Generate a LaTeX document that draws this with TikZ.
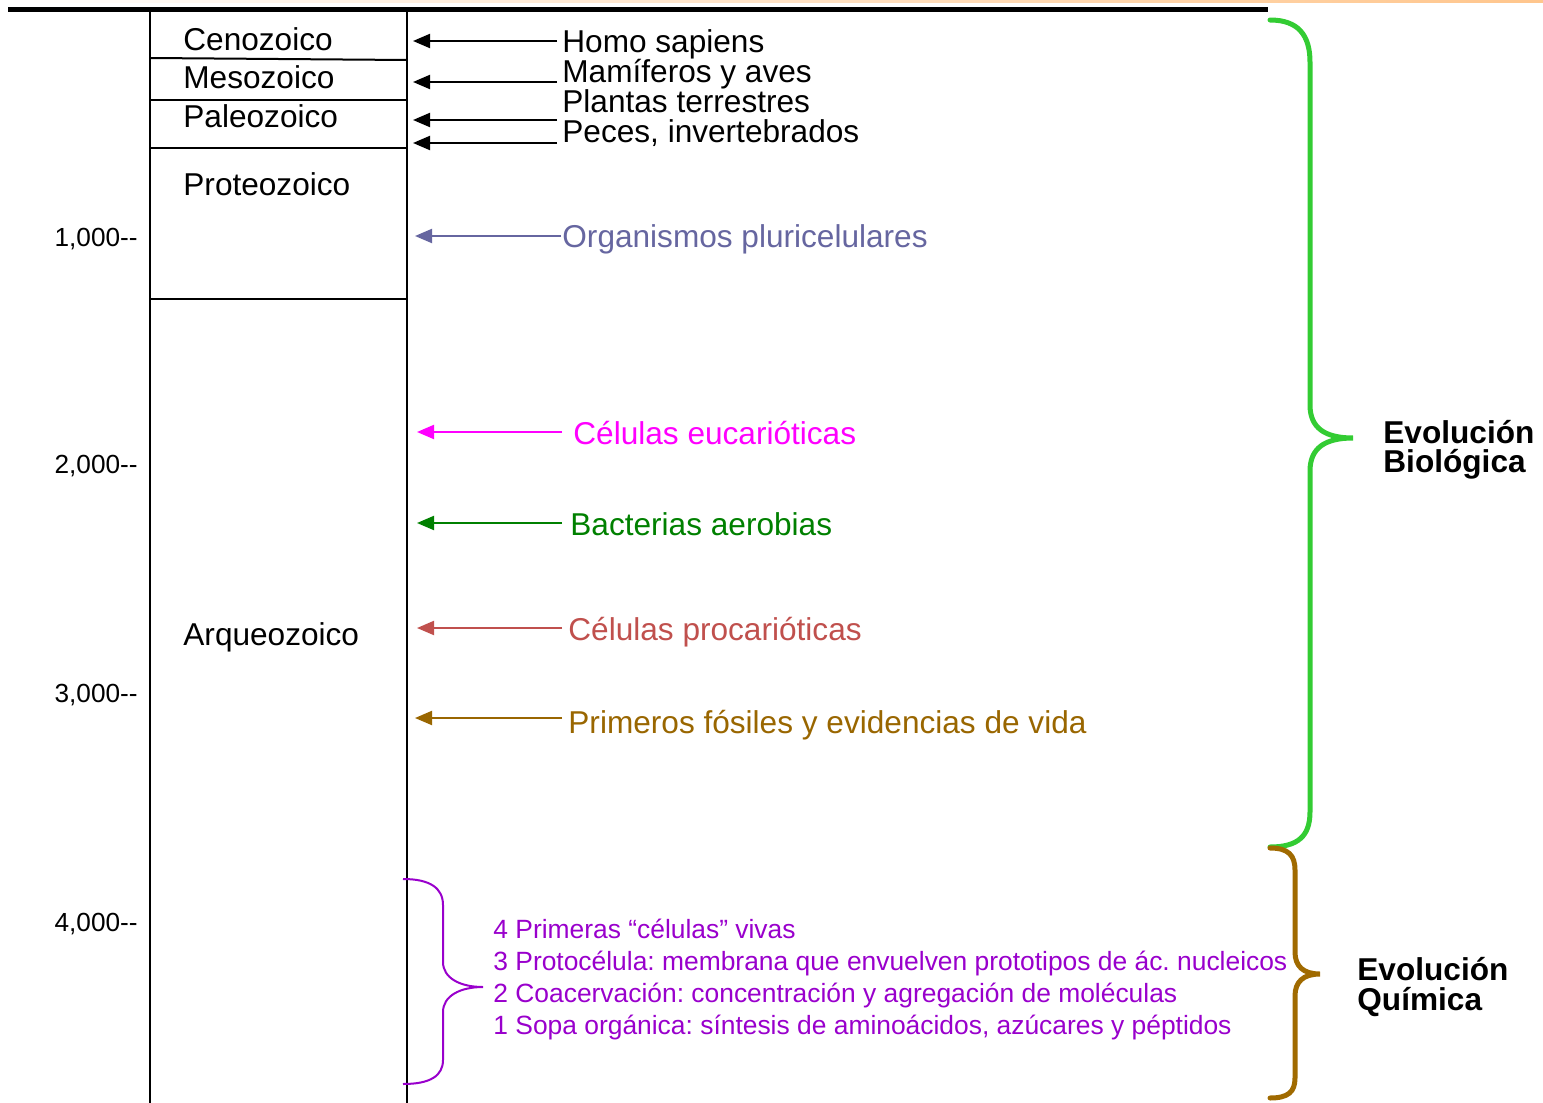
\documentclass[tikz,border=0pt]{standalone}
\usepackage{fontspec}
\setmainfont{Liberation Sans}
\usetikzlibrary{arrows.meta}
\usepackage{xcolor}
\frenchspacing

\definecolor{pluri}{RGB}{102,102,160}
\definecolor{euca}{RGB}{255,0,255}
\definecolor{aero}{RGB}{0,128,0}
\definecolor{proca}{RGB}{192,80,77}
\definecolor{fosil}{RGB}{153,102,0}
\definecolor{biol}{RGB}{51,204,51}
\definecolor{quim}{RGB}{160,106,0}
\definecolor{sopa}{RGB}{153,0,204}

\begin{document}
\begin{tikzpicture}[x=0.5pt,y=-0.5pt,
  era/.style={anchor=base west,inner sep=0pt,font=\fontsize{15.8}{19}\selectfont},
  evento/.style={anchor=base west,inner sep=0pt,font=\fontsize{15.8}{19}\selectfont},
  edad/.style={anchor=base east,inner sep=0pt,font=\fontsize{13.1}{16}\selectfont},
  paso/.style={anchor=base west,inner sep=0pt,text=sopa,font=\fontsize{13.2}{16}\selectfont},
  titulo/.style={anchor=base west,inner sep=0pt,font=\fontsize{15.8}{19}\selectfont\bfseries},
  flecha/.style={line width=1pt,-{Triangle[length=8.5pt,width=7pt]}},
  llave/.style={line width=2.5pt,line cap=round}]
\useasboundingbox (0,0) rectangle (1543,1103);

%top
\shade[left color=white,right color=orange!45] (0,0) rectangle (1543,2.5);
\draw[line width=2.5pt] (8,9) -- (1268,9);

%column
\draw[line width=1pt] (150,11) -- (150,1103);
\draw[line width=1pt] (407,11) -- (407,1103);
\draw[line width=1pt] (150,58) -- (407,60);
\draw[line width=1pt] (150,100) -- (407,100);
\draw[line width=1pt] (150,148) -- (407,148);
\draw[line width=1pt] (150,299) -- (407,299);

%eras
\node[era] (ceno) at (183,50) {Cenozoico};
\node[era] (meso) at (183,88) {Mesozoico};
\node[era] (paleo) at (183,127) {Paleozoico};
\node[era] (proteo) at (183,195) {Proteozoico};
\node[era] (arqueo) at (183,645) {Arqueozoico};

%ages
\node[edad] (m1) at (138,246) {1,000\mbox{-}\mbox{-}};
\node[edad] (m2) at (138,473) {2,000\mbox{-}\mbox{-}};
\node[edad] (m3) at (138,702) {3,000\mbox{-}\mbox{-}};
\node[edad] (m4) at (138,931) {4,000\mbox{-}\mbox{-}};

%events
\node[evento] (homo) at (562,52) {Homo sapiens};
\node[evento] (mami) at (562,83) {Mamíferos y aves};
\node[evento] (plan) at (562,112) {Plantas terrestres};
\node[evento] (pece) at (562,142) {Peces, invertebrados};
\node[evento,text=pluri] (orga) at (562,247) {Organismos pluricelulares};
\node[evento,text=euca] (euc) at (573,444) {Células eucarióticas};
\node[evento,text=aero] (bac) at (570,535) {Bacterias aerobias};
\node[evento,text=proca] (pro) at (568,640) {Células procarióticas};
\node[evento,text=fosil] (fos) at (568,733) {Primeros fósiles y evidencias de vida};

%arrows
\coordinate (homoA) at (557,41);  \coordinate (homoB) at (413,41);
\coordinate (mamiA) at (557,82);  \coordinate (mamiB) at (413,82);
\coordinate (planA) at (557,120); \coordinate (planB) at (413,120);
\coordinate (peceA) at (557,143); \coordinate (peceB) at (413,143);
\coordinate (orgaA) at (561,236); \coordinate (orgaB) at (415,236);
\coordinate (eucA) at (562,432);  \coordinate (eucB) at (417,432);
\coordinate (bacA) at (562,523);  \coordinate (bacB) at (417,523);
\coordinate (proA) at (562,628);  \coordinate (proB) at (417,628);
\coordinate (fosA) at (562,718);  \coordinate (fosB) at (415,718);
\draw[flecha] (homoA) -- (homoB);
\draw[flecha] (mamiA) -- (mamiB);
\draw[flecha] (planA) -- (planB);
\draw[flecha] (peceA) -- (peceB);
\draw[flecha,pluri] (orgaA) -- (orgaB);
\draw[flecha,euca] (eucA) -- (eucB);
\draw[flecha,aero] (bacA) -- (bacB);
\draw[flecha,proca] (proA) -- (proB);
\draw[flecha,fosil] (fosA) -- (fosB);

%chemical steps
\node[paso] (p4) at (493,938) {4 Primeras “células” vivas};
\node[paso] (p3) at (493,970) {3 Protocélula: membrana que envuelven prototipos de ác. nucleicos};
\node[paso] (p2) at (493,1002) {2 Coacervación: concentración y agregación de moléculas};
\node[paso] (p1) at (493,1034) {1 Sopa orgánica: síntesis de aminoácidos, azúcares y péptidos};
\draw[sopa,line width=1pt] (403,879) .. controls (430,879) and (443,888) .. (443,905)
  -- (443,962) .. controls (443,978) and (460,987) .. (483,987)
  .. controls (460,987) and (443,996) .. (443,1012)
  -- (443,1060) .. controls (443,1076) and (430,1084) .. (403,1084);

%braces
\draw[llave,biol] (1270,20) .. controls (1298,20) and (1310,35) .. (1310,62)
  -- (1310,405) .. controls (1310,428) and (1325,438) .. (1353,438)
  .. controls (1325,438) and (1310,448) .. (1310,471)
  -- (1310,812) .. controls (1310,836) and (1298,847) .. (1270,847);
\draw[llave,quim] (1270,848) .. controls (1288,848) and (1295,855) .. (1295,870)
  -- (1295,952) .. controls (1295,966) and (1303,974) .. (1320,974)
  .. controls (1303,974) and (1295,982) .. (1295,996)
  -- (1295,1078) .. controls (1295,1092) and (1288,1098) .. (1270,1098);

%titles
\node[titulo] (bio1) at (1383,443) {Evolución};
\node[titulo] (bio2) at (1383,472) {Biológica};
\node[titulo] (qui1) at (1357,980) {Evolución};
\node[titulo] (qui2) at (1357,1010) {Química};
\end{tikzpicture}
\end{document}
